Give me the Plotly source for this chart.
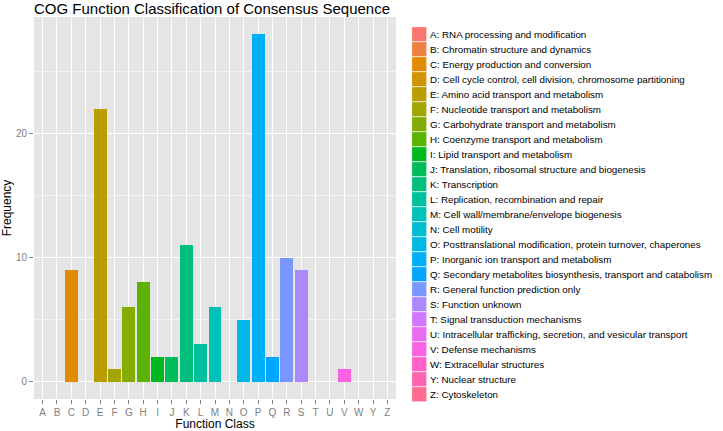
import math
import plotly.graph_objects as go

# COG classes and counts
classes = list("ABCDEFGHIJKLMNOPQRSTUVWYZ")
counts = [0, 0, 9, 0, 22, 1, 6, 8, 2, 2, 11, 3, 6, 0, 5, 28, 2, 10, 9, 0, 0, 1, 0, 0, 0]
descriptions = [
    "RNA processing and modification",
    "Chromatin structure and dynamics",
    "Energy production and conversion",
    "Cell cycle control, cell division, chromosome partitioning",
    "Amino acid transport and metabolism",
    "Nucleotide transport and metabolism",
    "Carbohydrate transport and metabolism",
    "Coenzyme transport and metabolism",
    "Lipid transport and metabolism",
    "Translation, ribosomal structure and biogenesis",
    "Transcription",
    "Replication, recombination and repair",
    "Cell wall/membrane/envelope biogenesis",
    "Cell motility",
    "Posttranslational modification, protein turnover, chaperones",
    "Inorganic ion transport and metabolism",
    "Secondary metabolites biosynthesis, transport and catabolism",
    "General function prediction only",
    "Function unknown",
    "Signal transduction mechanisms",
    "Intracellular trafficking, secretion, and vesicular transport",
    "Defense mechanisms",
    "Extracellular structures",
    "Nuclear structure",
    "Cytoskeleton",
]
legend_labels = [f"{c}: {d}" for c, d in zip(classes, descriptions)]


# ggplot-style hue palette (hcl, c=100, l=65)
def hcl_hex(h, c=100.0, l=65.0):
    Xn, Yn, Zn = 95.047, 100.0, 108.883
    Y = Yn * ((l + 16) / 116) ** 3
    den = Xn + 15 * Yn + 3 * Zn
    un, vn = 4 * Xn / den, 9 * Yn / den
    u = c * math.cos(math.radians(h))
    v = c * math.sin(math.radians(h))
    up = u / (13 * l) + un
    vp = v / (13 * l) + vn
    X = 9 * Y * up / (4 * vp)
    Z = Y * (12 - 3 * up - 20 * vp) / (4 * vp)
    X, Y, Z = X / 100, Y / 100, Z / 100
    rgb = [
        3.240479 * X - 1.537150 * Y - 0.498535 * Z,
        -0.969256 * X + 1.875992 * Y + 0.041556 * Z,
        0.055648 * X - 0.204043 * Y + 1.057311 * Z,
    ]
    out = []
    for ch in rgb:
        ch = 12.92 * ch if ch <= 0.0031308 else 1.055 * ch ** (1 / 2.4) - 0.055
        out.append(int(round(min(max(ch, 0), 1) * 255)))
    return "#%02X%02X%02X" % tuple(out)


n = len(classes)
colors = [hcl_hex(15 + 360 / n * i) for i in range(n)]

FONT = "Liberation Sans, Arial, sans-serif"
GREY = "#7F7F7F"

fig = go.Figure()

# main bars
fig.add_trace(go.Bar(
    x=classes, y=counts,
    marker=dict(color=colors, line=dict(width=0)),
    width=0.9,
    showlegend=False,
    xaxis="x", yaxis="y",
))

# legend drawn as a narrow column of keys
fig.add_trace(go.Bar(
    x=[1] * n, y=legend_labels,
    orientation="h",
    marker=dict(color=colors, line=dict(color="white", width=0.6)),
    width=1,
    showlegend=False,
    hoverinfo="skip",
    xaxis="x2", yaxis="y2",
))

fig.update_layout(
    width=723, height=431,
    margin=dict(l=34, r=0, t=17, b=28),
    paper_bgcolor="white",
    plot_bgcolor="#E5E5E5",
    font=dict(family=FONT, size=10, color="black"),
    title=dict(
        text="COG Function Classification of Consensus Sequence",
        x=34 / 723, xref="container", xanchor="left",
        y=1 - 9 / 431, yref="container", yanchor="middle",
        font=dict(size=15, color="black"),
    ),
    bargap=0,
    xaxis=dict(
        domain=[0, 0.5254],
        type="category",
        categoryorder="array", categoryarray=classes,
        range=[-0.6, 24.6],
        showgrid=True, gridcolor="white", gridwidth=1,
        ticks="outside", ticklen=4, tickcolor=GREY, tickwidth=1,
        tickfont=dict(size=10, color=GREY),
        showline=False, zeroline=False,
        title=dict(text="Function Class", font=dict(size=12, color="black"), standoff=2),
        anchor="y",
    ),
    yaxis=dict(
        domain=[0.0104, 1],
        range=[-1.4, 29.4],
        tickvals=[0, 10, 20],
        showgrid=True, gridcolor="white", gridwidth=1,
        minor=dict(tickvals=[5, 15, 25], showgrid=True, gridcolor="#F2F2F2", gridwidth=0.6),
        ticks="outside", ticklen=4, tickcolor=GREY, tickwidth=1,
        tickfont=dict(size=10, color=GREY),
        showline=False, zeroline=False,
        title=dict(text="Frequency", font=dict(size=12, color="black"), standoff=8),
        anchor="x",
    ),
    xaxis2=dict(
        domain=[0.5486, 0.5704],
        range=[0, 1],
        visible=False,
        anchor="y2",
    ),
    yaxis2=dict(
        domain=[0.0026, 0.974],
        type="category",
        categoryorder="array", categoryarray=legend_labels,
        autorange="reversed",
        side="right",
        showgrid=False, zeroline=False, showline=False,
        ticks="", ticklabelstandoff=2,
        tickfont=dict(size=9.8, color="black"),
        anchor="x2",
    ),
)

fig.write_html(
    "out.html",
    config={"displayModeBar": False},
    post_script="document.body.style.margin='0';",
)
